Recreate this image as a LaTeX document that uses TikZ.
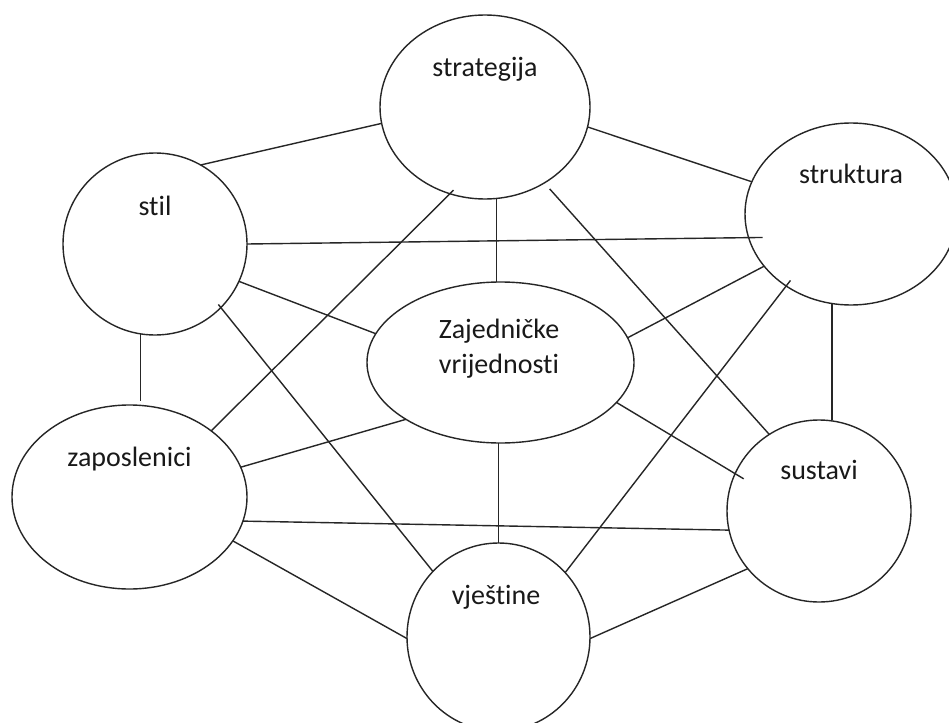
\documentclass[tikz,border=0pt]{standalone}
\usepackage{fontspec}
\setmainfont{Carlito}[RawFeature={-liga}]
\usetikzlibrary{shapes.geometric}
\begin{document}
\begin{tikzpicture}[x=1pt,y=-1pt,
  ell/.style={draw=black!85, line width=1.4pt, ellipse, inner sep=0pt, outer sep=0pt},
  lbl/.style={inner sep=0pt, anchor=base, font=\fontsize{28}{35}\selectfont, text=black!90},
  conn/.style={draw=black!85, line width=1.4pt}]
\useasboundingbox (0,0) rectangle (949,722);
\fill[white] (0,0) rectangle (949,722);
% ellipses
\node[ell, minimum width=210pt, minimum height=184pt] (strategija) at (485,107) {};
\node[ell, minimum width=184pt, minimum height=182pt] (stil) at (155,244) {};
\node[ell, minimum width=212pt, minimum height=182pt] (struktura) at (851,214) {};
\node[ell, minimum width=267pt, minimum height=161pt] (zaj) at (500.5,362.5) {};
\node[ell, minimum width=235pt, minimum height=184pt] (zaposlenici) at (129.5,497) {};
\node[ell, minimum width=184pt, minimum height=182pt] (sustavi) at (819,511) {};
\node[ell, minimum width=183pt, minimum height=188pt] (vjestine) at (498.5,637) {};
% labels
\node[lbl] (tstrategija) at (485,77) {strategija};
\node[lbl] (tstil) at (155,215) {stil};
\node[lbl] (tstruktura) at (851,183) {struktura};
\node[lbl] (tzaj1) at (499,338) {Zajedničke};
\node[lbl] (tzaj2) at (499,373) {vrijednosti};
\node[lbl] (tzaposlenici) at (129.5,466) {zaposlenici};
\node[lbl] (tsustavi) at (819,479) {sustavi};
\node[lbl] (tvjestine) at (496,604) {vještine};
% connectors
\draw[conn] (stil.60) -- (strategija.189);
\draw[conn, shorten >=-14pt] (stil.0) -- (struktura.193);
\draw[conn, shorten <=-5pt] (strategija.248) -- (zaposlenici.39);
\draw[conn] (stil.-24) -- (zaj.167);
\draw[conn, shorten <=-4pt] (stil.-44.5) -- (vjestine.135.6);
\draw[conn, shorten >=4pt] (stil.261) -- (stil.261 |- zaposlenici.north);
\draw[conn] (strategija.-11.4) -- (struktura.162);
\draw[conn] (strategija.-83) -- (strategija.-83 |- zaj.north);
\draw[conn, shorten <=8pt] (strategija.-52) -- (sustavi.123);
\draw[conn] (struktura.211) -- (zaj.11.3);
\draw[conn, shorten <=-7pt] (struktura.228.6) -- (vjestine.44.8);
\draw[conn] (struktura.258) -- (struktura.258 |- sustavi.north);
\draw[conn] (zaposlenici.15.6) -- (zaj.211);
\draw[conn] (zaposlenici.-12.5) -- (sustavi.192.5);
\draw[conn] (zaposlenici.-23.6) -- (vjestine.181.2);
\draw[conn, shorten >=-10pt] (zaj.-19.8) -- (sustavi.156);
\draw[conn] (vjestine.north |- zaj.south) -- (vjestine.north);
\draw[conn] (vjestine.-1) -- (sustavi.219);
\end{tikzpicture}
\end{document}
